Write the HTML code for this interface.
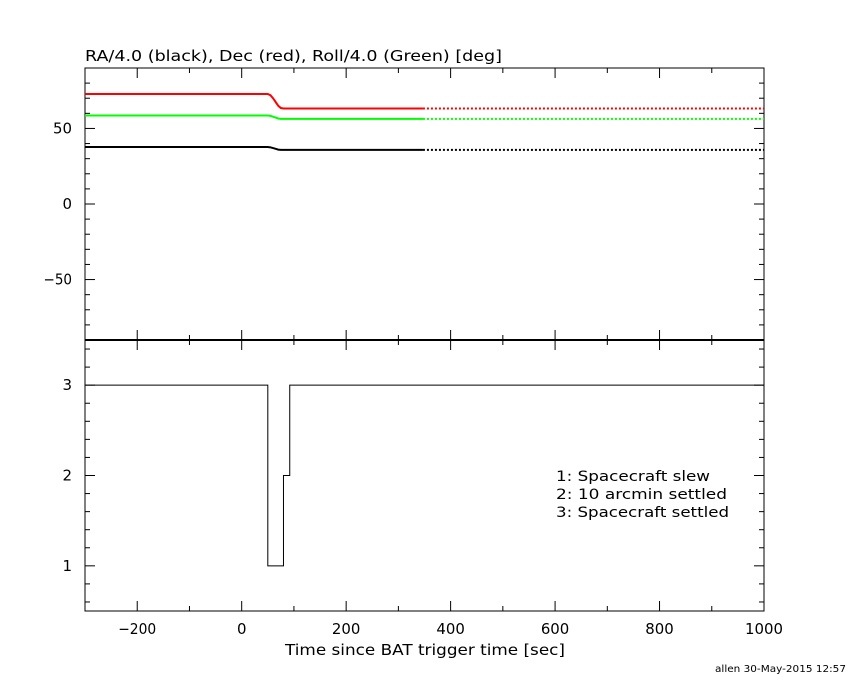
<!DOCTYPE html>
<html><head><meta charset="utf-8"><style>
body{margin:0;background:#fff;}
svg text{font-family:"DejaVu Sans","Liberation Sans",sans-serif;fill:#000;}
</style></head><body>
<svg id="c" width="850" height="680" xmlns="http://www.w3.org/2000/svg"></svg>
<script>
const times=[-300,50,55,60,65,70,75,80,347,1000];
const raVals=[37.7,37.7,37.5,37.0,36.5,36.0,35.8,35.8,35.8,35.8];
const decVals=[72.8,72.8,72,70,67.5,65,63.5,63.2,63.2,63.2];
const rollVals=[58.6,58.6,58.3,57.8,57.2,56.6,56.3,56.3,56.3,56.3];
const solidEnd=347;
const stepTimes=[-300,50,80,92,1000];
const stepVals=[3,1,2,3,3];
const xTicks=[-200,0,200,400,600,800,1000];
const yTopTicks=[-50,0,50];
const yBotTicks=[1,2,3];
const legendLines=["1: Spacecraft slew","2: 10 arcmin settled","3: Spacecraft settled"];
const legendWidths=[154,171,173];

const svg=document.getElementById('c');
const NS='http://www.w3.org/2000/svg';
const L=85,R=764,T1=68,B1=340,T2=340,B2=611;
const X=t=>L+(t+300)/1300*(R-L);
const Y1=v=>T1+(90-v)/180*(B1-T1);
const Y2=v=>T2+(3.5-v)/3*(B2-T2);
function mk(tag,attrs){const e=document.createElementNS(NS,tag);for(const k in attrs)e.setAttribute(k,attrs[k]);svg.appendChild(e);return e;}
function txt(x,y,s,anchor,size,len){const a={x:x,y:y,'text-anchor':anchor||'middle','font-size':size||15};if(len){a.textLength=len;a.lengthAdjust='spacingAndGlyphs';}const e=mk('text',a);e.textContent=s;return e;}

let f1=mk('rect',{x:L,y:T1,width:R-L,height:B1-T1,fill:'none',stroke:'#000','stroke-width':1});


let f2=mk('rect',{x:L,y:T2,width:R-L,height:B2-T2,fill:'none',stroke:'#000','stroke-width':1});


let sep=mk('line',{x1:L,x2:R,y1:340,y2:340,stroke:'#000','stroke-width':2});



for(let t=-300;t<=1000;t+=100){const big=t%200===0;const h=big?10:5;
 for(const [a,b] of [[T1,1],[B1,-1],[T2,1],[B2,-1]]){mk('line',{x1:X(t),x2:X(t),y1:a,y2:a+b*h,stroke:'#000'});}}
xTicks.forEach(t=>{const s=(t<0?'\u2212'+(-t):''+t);const e=txt(X(t),634,s,'middle',15,s.length*9.5);});
for(let v=-90;v<=90;v+=10){const big=v%50===0;const h=big?10:5;
 mk('line',{x1:L,x2:L+h,y1:Y1(v),y2:Y1(v),stroke:'#000'});mk('line',{x1:R,x2:R-h,y1:Y1(v),y2:Y1(v),stroke:'#000'});}
yTopTicks.forEach(v=>{const s=(v<0?'\u2212'+(-v):''+v);const e=txt(72,Y1(v)+5,s,'end',15,s.length*9.5);});
for(let v=0.6;v<3.5;v+=0.2){const r=Math.round(v*10)/10;const big=Math.abs(r-Math.round(r))<1e-6;const h=big?10:5;
 mk('line',{x1:L,x2:L+h,y1:Y2(r),y2:Y2(r),stroke:'#000'});mk('line',{x1:R,x2:R-h,y1:Y2(r),y2:Y2(r),stroke:'#000'});}
yBotTicks.forEach(v=>{const e=txt(72,Y2(v)+5,''+v,'end',15);});

function series(vals,color,name){
 let solid=[],dot=[];
 times.forEach((t,i)=>{if(t<=solidEnd)solid.push(X(t)+','+Y1(vals[i]));if(t>=solidEnd)dot.push(X(t)+','+Y1(vals[i]));});
 let a=mk('polyline',{points:solid.join(' '),fill:'none',stroke:color,'stroke-width':2});
 
 
 let b=mk('polyline',{points:dot.join(' '),fill:'none',stroke:color,'stroke-width':2,'stroke-dasharray':'2,2'});
 
 
}
series(decVals,'#ff0000','dec');
series(rollVals,'#00ff00','roll');
series(raVals,'#000000','ra');

let pts=[];
for(let i=0;i<stepTimes.length-1;i++){pts.push(X(stepTimes[i])+','+Y2(stepVals[i]));pts.push(X(stepTimes[i+1])+','+Y2(stepVals[i]));}
let st=mk('polyline',{points:pts.join(' '),fill:'none',stroke:'#000','stroke-width':1});



let tt=txt(85,61,'RA/4.0 (black), Dec (red), Roll/4.0 (Green) [deg]','start',15,417);

legendLines.forEach((s,i)=>{const e=txt(556,481+i*18,s,'start',14,legendWidths[i]);});
let xt=txt(425,655,'Time since BAT trigger time [sec]','middle',15,280);

let ft=txt(846,672,'allen 30-May-2015 12:57','end',10,131);

</script>
</body></html>
